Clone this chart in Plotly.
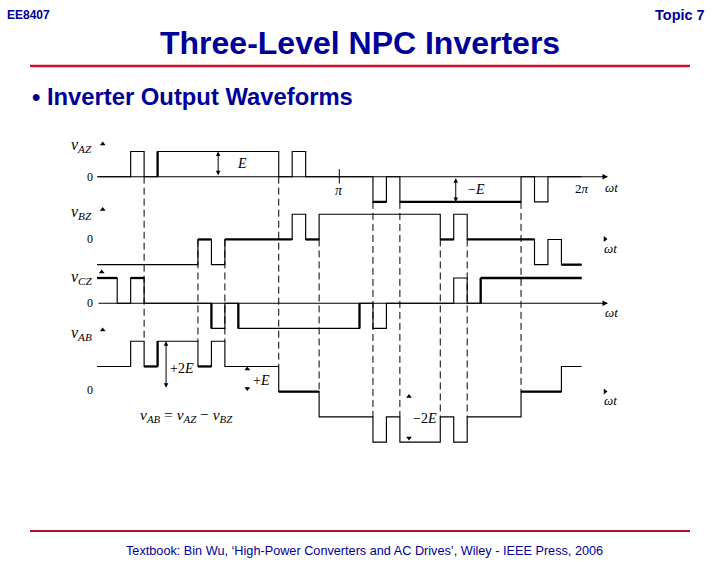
import plotly.graph_objects as go

# ---------------- data (switching angles in degrees, levels in units of E) ----------------
vAZ_angles = [0, 25, 35, 45, 135, 145, 155, 205, 215, 225, 315, 325, 335, 360]
vAZ_levels = [0, 1, 0, 1, 0, 1, 0, -1, 0, -1, 0, -1, 0]
vBZ_angles = [0, 75, 85, 95, 145, 155, 165, 255, 265, 275, 325, 335, 345, 360]
vBZ_levels = [-1, 0, -1, 0, 1, 0, 1, 0, 1, 0, -1, 0, -1]
vCZ_angles = [0, 15, 25, 35, 85, 95, 105, 195, 205, 215, 265, 275, 285, 360]
vCZ_levels = [1, 0, 1, 0, -1, 0, -1, 0, -1, 0, 1, 0, 1]
vAB_angles = [0, 25, 35, 45, 75, 85, 95, 135, 165, 205, 215, 225, 255, 265, 275, 315, 345, 360]
vAB_levels = [1, 2, 1, 2, 1, 2, 1, 0, -1, -2, -1, -2, -1, -2, -1, 0, 1]

# segments drawn heavier in the original figure (start angles of horizontal runs / edges)
vAZ_bold_runs = [205, 225]
vBZ_bold_runs = [75, 95, 155, 255, 275, 345]
vCZ_bold_runs = [0, 25, 285]
vAB_bold_runs = [35, 75, 135, 315]
vAZ_bold_edges = [45]
vCZ_bold_edges = [85, 105, 195, 285]
vAB_bold_edges = [45]

# dashed guide lines: (angle, from waveform, level, to waveform, level)
dash_links = [
    (35, "AZ", 0, "AB", 2), (75, "BZ", 0, "AB", 2), (95, "BZ", 0, "AB", 2),
    (135, "AZ", 0, "AB", 1), (165, "BZ", 0, "AB", 0), (205, "AZ", -1, "AB", -1),
    (225, "AZ", -1, "AB", -1), (255, "BZ", 0, "AB", -1), (275, "BZ", 0, "AB", -1),
    (315, "AZ", -1, "AB", 0),
]

# ---------------- layout constants ----------------
W, H = 720, 562
OFF = {"AZ": 0.0, "BZ": -2.49, "CZ": -5.02, "AB": -8.53}   # vertical stacking of the traces
X_RANGE = [-72.06, 462.8]
Y_RANGE = [-15.29, 7.012]
THIN, THICK = 1.15, 2.3
NAVY = "#000099"
RED = "#cc1030"
SERIF = "Liberation Serif"
SANS = "Liberation Sans"

waves = {
    "AZ": (vAZ_angles, vAZ_levels, vAZ_bold_runs, vAZ_bold_edges),
    "BZ": (vBZ_angles, vBZ_levels, vBZ_bold_runs, []),
    "CZ": (vCZ_angles, vCZ_levels, vCZ_bold_runs, vCZ_bold_edges),
    "AB": (vAB_angles, vAB_levels, vAB_bold_runs, vAB_bold_edges),
}

fig = go.Figure()

# dashed guides (drawn first, beneath waveforms)
dx, dy = [], []
for ang, wa, la, wb, lb in dash_links:
    dx += [ang, ang, None]
    dy += [la + OFF[wa], lb + OFF[wb], None]
fig.add_trace(go.Scatter(x=dx, y=dy, mode="lines", hoverinfo="skip",
                         line=dict(color="black", width=1, dash="7px,4px")))

for key, (ang, lev, bold_runs, bold_edges) in waves.items():
    off = OFF[key]
    fig.add_trace(go.Scatter(x=ang, y=[l + off for l in lev] + [lev[-1] + off],
                             mode="lines", hoverinfo="skip",
                             line=dict(shape="hv", color="black", width=THIN)))
    bx, by = [], []
    for a in bold_runs:
        i = ang.index(a)
        bx += [ang[i], ang[i + 1], None]
        by += [lev[i] + off, lev[i] + off, None]
    for a in bold_edges:
        i = ang.index(a)
        bx += [a, a, None]
        by += [lev[i - 1] + off, lev[i] + off, None]
    fig.add_trace(go.Scatter(x=bx, y=by, mode="lines", hoverinfo="skip",
                             line=dict(color="black", width=THICK)))

# pi tick
fig.add_trace(go.Scatter(x=[180, 180], y=[0.3, -0.27], mode="lines", hoverinfo="skip",
                         line=dict(color="black", width=1)))


def P(x, y):
    return x / W, 1 - y / H


ann = []


def text(x, y, s, size=13, font=SERIF, color="black", xanchor="center"):
    px_, py_ = P(x, y)
    ann.append(dict(x=px_, y=py_, xref="paper", yref="paper", text=s, showarrow=False,
                    xanchor=xanchor, yanchor="middle",
                    font=dict(family=font, size=size, color=color)))


def arrow(x, y, ax, ay, side="end", width=1.0, size=1.0, head=2):
    ann.append(dict(x=x, y=y, ax=ax, ay=ay, xref="x", yref="y", axref="x", ayref="y",
                    text="", showarrow=True, arrowhead=head, arrowside=side,
                    arrowwidth=width, arrowsize=size, arrowcolor="black",
                    startarrowhead=head, startarrowsize=size))


# horizontal axes with arrows (vAZ and vCZ)
arrow(379.6, OFF["AZ"], 0, OFF["AZ"], width=1.1, size=1.0)
arrow(379.6, OFF["CZ"], 0, OFF["CZ"], width=1.1, size=1.0)

# E and -E double arrows, +2E arrow
arrow(90, 1 + OFF["AZ"], 90, 0 + OFF["AZ"], side="end+start", width=1, size=0.9)
arrow(266.5, -1 + OFF["AZ"], 266.5, 0 + OFF["AZ"], side="end+start", width=1, size=0.9)
arrow(51.3, 2 + OFF["AB"], 51.3, 0.1 + OFF["AB"], side="end+start", width=1, size=0.9)

# small arrowheads without shafts
tri = [(102.7, 144, "triangle-up"), (102.7, 209.5, "triangle-up"),
       (101.7, 272, "triangle-up"), (102.7, 330, "triangle-up"),
       (605, 239, "triangle-right"), (605, 391.5, "triangle-right"),
       (247.3, 369, "triangle-up"), (247.3, 388.5, "triangle-down"),
       (409, 396.5, "triangle-up"), (409, 438, "triangle-down")]
fig.add_trace(go.Scatter(
    x=[(t[0] - 97.0) / 1.3461 for t in tri],
    y=[(176.7 - t[1]) / 25.2 for t in tri],
    mode="markers", hoverinfo="skip",
    marker=dict(symbol=[t[2] for t in tri], size=5, color="black", line=dict(width=0))))

# waveform labels
text(81, 146, "<i>v</i><sub><i>AZ</i></sub>", 16)
text(81, 213, "<i>v</i><sub><i>BZ</i></sub>", 16)
text(82, 277, "<i>v</i><sub><i>CZ</i></sub>", 16)
text(81, 333, "<i>v</i><sub><i>AB</i></sub>", 16)
for yy in (177, 239, 303, 390):
    text(90, yy, "0", 12)
text(611, 187, "<i>ωt</i>", 13)
text(610, 249, "<i>ωt</i>", 13)
text(611, 312, "<i>ωt</i>", 13)
text(610, 400, "<i>ωt</i>", 13)
text(582, 188, "2<i>π</i>", 13)
text(339, 191, "<i>π</i>", 14)
text(242, 163, "<i>E</i>", 14)
text(476, 189, "−<i>E</i>", 14)
text(182, 368, "+2<i>E</i>", 14)
text(261, 380, "+<i>E</i>", 14)
text(425, 418, "−2<i>E</i>", 14)
text(186, 416, "<i>v</i><sub><i>AB</i></sub> = <i>v</i><sub><i>AZ</i></sub> − <i>v</i><sub><i>BZ</i></sub>", 15.5)

# slide header / footer
text(5, 15, "<b>EE8407</b>", 12, SANS, NAVY, "left")
text(707, 15, "<b>Topic 7</b>", 14.5, SANS, NAVY, "right")
text(360, 43, "<b>Three-Level NPC Inverters</b>", 32, SANS, NAVY)
text(30, 97, "<b>• Inverter Output Waveforms</b>", 23.8, SANS, NAVY, "left")
text(364, 551, "Textbook: Bin Wu, ‘High-Power Converters and AC Drives’, Wiley - IEEE Press, 2006",
     12.7, SANS, NAVY)

shapes = [
    dict(type="line", xref="paper", yref="paper", x0=30 / W, x1=690 / W, y0=1 - 66 / H, y1=1 - 66 / H,
         line=dict(color=RED, width=2.5)),
    dict(type="line", xref="paper", yref="paper", x0=30 / W, x1=690 / W, y0=1 - 531 / H, y1=1 - 531 / H,
         line=dict(color="#b01020", width=2.2)),
]

fig.update_layout(
    width=W, height=H, margin=dict(l=0, r=0, t=0, b=0),
    paper_bgcolor="white", plot_bgcolor="white", showlegend=False,
    xaxis=dict(range=X_RANGE, visible=False, fixedrange=True),
    yaxis=dict(range=Y_RANGE, visible=False, fixedrange=True),
    annotations=ann, shapes=shapes,
)

fig.write_html("out.html", config={"staticPlot": True},
               post_script="document.body.style.margin='0px';document.body.style.overflow='hidden';")
